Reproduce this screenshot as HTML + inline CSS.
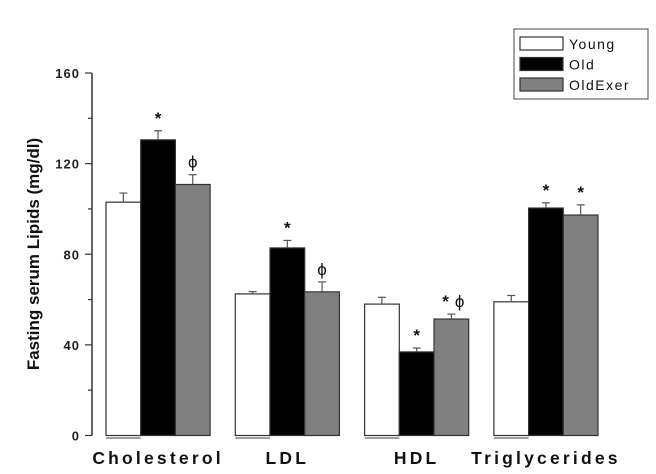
<!DOCTYPE html>
<html><head><meta charset="utf-8"><style>
body{margin:0;background:#fff}
svg{display:block;font-family:"Liberation Sans",sans-serif}
</style></head><body>
<svg id="c" width="656" height="474" viewBox="0 0 656 474"></svg>
<script>
const categories=["Cholesterol","LDL","HDL","Triglycerides"];
const seriesNames=["Young","Old","OldExer"];
const young=[103,62.5,58,59];
const old=[130.5,82.8,36.9,100.4];
const oldExer=[110.8,63.4,51.4,97.3];
const youngErr=[4,1,3,2.8];
const oldErr=[4,3.3,1.7,2.3];
const oldExerErr=[4.3,4.4,2.2,4.5];
const marks=[["","*","ϕ"],["","*","ϕ"],["","*","* ϕ"],["","*","*"]];
const yTicks=[0,40,80,120,160];
const NS="http://www.w3.org/2000/svg";
const svg=document.getElementById('c');
const y0=435.5,ppu=2.2656;
const Y=v=>y0-v*ppu;
const X=(g,s)=>106+g*129.3+s*34.7;
function el(t,a,p){const e=document.createElementNS(NS,t);for(const k in a)e.setAttribute(k,a[k]);(p||svg).appendChild(e);return e;}
const ax=el('line',{x1:92,y1:Y(0),x2:92,y2:Y(160),stroke:'#333','stroke-width':1.5});


for(let v=0;v<=160;v+=20){const major=v%40===0;const t=el('line',{x1:major?85:88,x2:92,y1:Y(v),y2:Y(v),stroke:'#333','stroke-width':1.2});

}
yTicks.forEach(v=>{const t=el('text',{x:80,y:Y(v)+5,'text-anchor':'end','font-size':13,'font-weight':'bold','letter-spacing':1,fill:'#222'});t.textContent=v;

});
const yt=el('text',{x:0,y:0,transform:'translate(39,254) rotate(-90)','text-anchor':'middle','font-size':17,'font-weight':'bold',fill:'#111'});yt.textContent='Fasting serum Lipids (mg/dl)';


const data=[young,old,oldExer],errs=[youngErr,oldErr,oldExerErr],fills=['#fff','#000','#808080'];
categories.forEach((c,g)=>{
  const bl=el('line',{x1:X(g,0),x2:X(g,1),y1:438,y2:438,stroke:'#666','stroke-width':1.2});
  
  
  for(let s=0;s<3;s++){
    const v=data[s][g],x=X(g,s),w=34.7;
    const r=el('rect',{x:x,y:Y(v),width:w,height:Y(0)-Y(v),fill:fills[s],stroke:'#333','stroke-width':1.2});
    
    
    const cx=x+w/2,te=Y(v+errs[s][g]);
    const e1=el('line',{x1:cx,x2:cx,y1:Y(v),y2:te,stroke:'#555','stroke-width':1.2});
    
    
    const e2=el('line',{x1:cx-4,x2:cx+4,y1:te,y2:te,stroke:'#555','stroke-width':1.2});
    
    
    const mk=marks[g][s];
    if(mk){
      const m=el('text',{x:cx+(mk.length>1?2:0),y:te-7,'text-anchor':'middle','font-size':17,fill:'#111'});
      
      
      mk.split(' ').forEach((p,i)=>{const ts=el('tspan',{'font-weight':p==='*'?'bold':'normal','dx':i?6:0},m);ts.textContent=p;});
    }
  }
  const l=el('text',{x:X(g,1.5),y:464,'text-anchor':'middle','font-size':17.5,'font-weight':'bold','letter-spacing':3.2,fill:'#111'});l.textContent=c;
  
  
});
const lg=el('g',{});


el('rect',{x:514,y:29,width:134,height:70,fill:'#fff',stroke:'#444','stroke-width':1},lg);
seriesNames.forEach((n,i)=>{
  const sw=el('rect',{x:520,y:37+i*20.5,width:43,height:13,fill:fills[i],stroke:'#333','stroke-width':1.2},lg);
  
  
  const t=el('text',{x:569,y:49+i*20.5,'font-size':14,'letter-spacing':1.5,fill:'#111'},lg);t.textContent=n;
  
  
});
</script>
</body></html>
